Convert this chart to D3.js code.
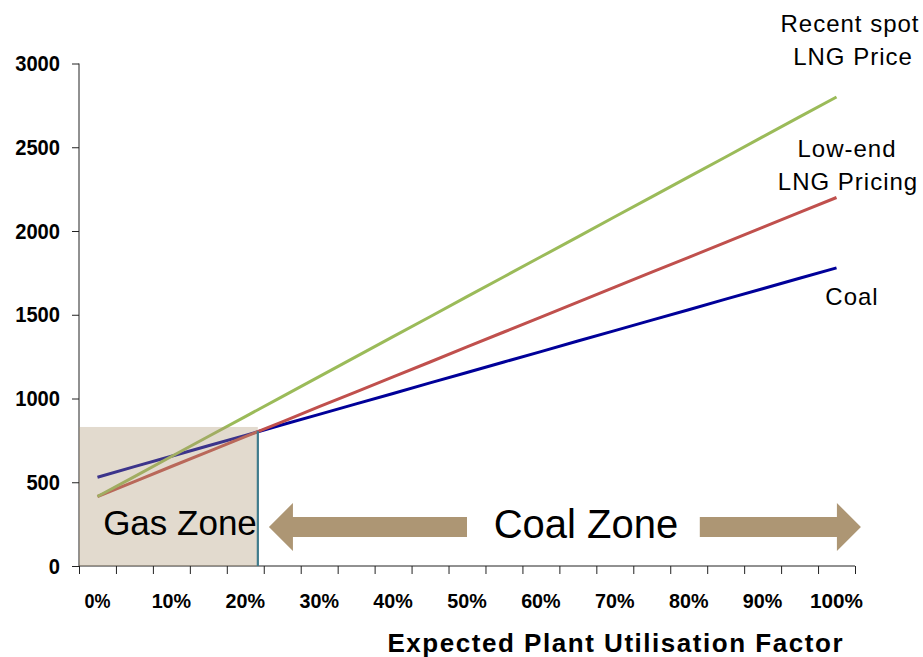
<!DOCTYPE html>
<html>
<head>
<meta charset="utf-8">
<script src="https://cdn.jsdelivr.net/npm/d3@7"></script>
<style>
  html, body { margin: 0; padding: 0; background: #fff; }
  svg { display: block; font-family: "Liberation Sans", Arial, sans-serif; }
</style>
</head>
<body>
<svg id="chart" width="923" height="657"></svg>
<script>
// ---- data ----
const utilisation = [0, 5, 10, 15, 20, 25, 30, 35, 40, 45, 50, 55, 60, 65, 70, 75, 80, 85, 90, 95, 100];
const xTickLabels = ["0%", "10%", "20%", "30%", "40%", "50%", "60%", "70%", "80%", "90%", "100%"];
const xTickLabelValues = [0, 10, 20, 30, 40, 50, 60, 70, 80, 90, 100];
const yTicks = [0, 500, 1000, 1500, 2000, 2500, 3000];

const coal =     [530, 593, 655, 718, 780, 843, 905, 968, 1030, 1093, 1155, 1218, 1280, 1343, 1405, 1468, 1530, 1593, 1655, 1718, 1780];
const lowEndLNG = [415, 504, 594, 683, 772, 861, 951, 1040, 1129, 1218, 1308, 1397, 1486, 1575, 1665, 1754, 1843, 1932, 2022, 2111, 2200];
const spotLNG =  [415, 534, 654, 773, 892, 1011, 1131, 1250, 1369, 1488, 1608, 1727, 1846, 1965, 2085, 2204, 2323, 2442, 2562, 2681, 2800];

const seriesNames = ["Coal", "Low-end LNG Pricing", "Recent spot LNG Price"];
const seriesColors = ["#000099", "#C0504D", "#9BBB59"];

const gasZoneLimit = [21.7];      // % utilisation where gas stops being cheaper
const gasZoneTop = [830];         // top of shaded region
const breakEvenValue = [805];     // cost where Coal and Low-end LNG cross
const leftArrowRange = [23.2, 50.0];   // tip, tail (in %)
const rightArrowRange = [81.5, 103.3]; // tail, tip (in %)
const arrowLevel = [233];

// ---- layout ----
const svg = d3.select("#chart");
const x = d3.scaleLinear().domain([-2.5, 102.5]).range([79, 855]);
const y = d3.scaleLinear().domain([0, 3000]).range([566, 63.5]);

// axes
const yAxis = d3.axisLeft(y).tickValues(yTicks).tickSize(7).tickFormat("");
const gy = svg.append("g").attr("transform", `translate(${x(-2.5)},0)`).call(yAxis);
gy.select(".domain").attr("stroke", "#222").attr("d", `M0,${y(3000)}V${y(0)}`);
gy.selectAll(".tick line").attr("stroke", "#222");

const boundaries = utilisation.map(v => v - 2.5).concat([102.5]);
const xAxis = d3.axisBottom(x).tickValues(boundaries).tickSize(8).tickFormat("");
const gx = svg.append("g").attr("transform", `translate(0,${y(0)})`).call(xAxis);
gx.select(".domain").attr("stroke", "#222").attr("d", `M${x(-2.5)},0H${x(102.5)}`);
gx.selectAll(".tick line").attr("stroke", "#222");

// y tick labels (tall, slightly condensed)
svg.append("g").selectAll("text").data(yTicks).join("text")
  .attr("x", 60).attr("y", d => y(d) + 7.5)
  .attr("text-anchor", "end")
  .attr("font-weight", "bold").attr("font-size", 21.5)
  .attr("textLength", d => String(d).length * 11.2)
  .attr("lengthAdjust", "spacingAndGlyphs")
  .attr("fill", "#000")
  .text(d => d);

// x tick labels
svg.append("g").selectAll("text").data(xTickLabelValues).join("text")
  .attr("x", d => x(d)).attr("y", 608)
  .attr("text-anchor", "middle")
  .attr("font-weight", "bold").attr("font-size", 21)
  .attr("textLength", (d, i) => xTickLabels[i].length * 13.5 - 1)
  .attr("lengthAdjust", "spacingAndGlyphs")
  .attr("fill", "#000")
  .text((d, i) => xTickLabels[i]);

// x axis title
svg.append("text")
  .attr("x", 615).attr("y", 652)
  .attr("text-anchor", "middle")
  .attr("font-weight", "bold").attr("font-size", 26)
  .attr("textLength", 455).attr("lengthAdjust", "spacing")
  .text("Expected Plant Utilisation Factor");

// series lines
const allSeries = [coal, lowEndLNG, spotLNG];
const line = d3.line().x((d, i) => x(utilisation[i])).y(d => y(d));
svg.append("g").selectAll("path").data(allSeries).join("path")
  .attr("d", d => line(d))
  .attr("fill", "none")
  .attr("stroke", (d, i) => seriesColors[i])
  .attr("stroke-width", 3);

// gas zone shading (semi-transparent overlay)
svg.append("rect")
  .attr("x", x(-2.5)).attr("y", y(gasZoneTop[0]))
  .attr("width", x(gasZoneLimit[0]) - x(-2.5))
  .attr("height", y(0) - y(gasZoneTop[0]))
  .attr("fill", "#AD9673").attr("fill-opacity", 0.35);

// vertical break-even line
svg.append("line")
  .attr("x1", x(gasZoneLimit[0])).attr("x2", x(gasZoneLimit[0]))
  .attr("y1", y(breakEvenValue[0])).attr("y2", y(0))
  .attr("stroke", "#3F7B8C").attr("stroke-width", 2.2);

// arrows
const arrowColor = "#AD9674";
const ay = y(arrowLevel[0]);
function arrowPath(tipX, tailX) {
  const dir = tipX > tailX ? 1 : -1;
  const headLen = 24, headHalf = 24, shaftHalf = 10;
  const baseX = tipX - dir * headLen;
  return `M${tailX},${ay - shaftHalf}L${baseX},${ay - shaftHalf}L${baseX},${ay - headHalf}` +
         `L${tipX},${ay}L${baseX},${ay + headHalf}L${baseX},${ay + shaftHalf}L${tailX},${ay + shaftHalf}Z`;
}
svg.append("path").attr("d", arrowPath(x(leftArrowRange[0]), x(leftArrowRange[1]))).attr("fill", arrowColor);
svg.append("path").attr("d", arrowPath(x(rightArrowRange[1]), x(rightArrowRange[0]))).attr("fill", arrowColor);

// zone labels
svg.append("text").attr("x", 180).attr("y", 535).attr("text-anchor", "middle")
  .attr("font-size", 35).attr("fill", "#000").text("Gas Zone");
svg.append("text").attr("x", 586).attr("y", 538).attr("text-anchor", "middle")
  .attr("font-size", 40).attr("fill", "#000").text("Coal Zone");

// series annotations
const annotations = [
  { lines: ["Recent spot", "LNG Price"], cx: [850, 853], by: [32, 65] },
  { lines: ["Low-end", "LNG Pricing"], cx: [847, 848], by: [157, 190] },
  { lines: ["Coal"], cx: [852], by: [305] }
];
annotations.forEach(a => {
  a.lines.forEach((t, i) => {
    svg.append("text").attr("x", a.cx[i]).attr("y", a.by[i])
      .attr("text-anchor", "middle")
      .attr("font-size", 24).attr("letter-spacing", 1)
      .attr("fill", "#000").text(t);
  });
});
</script>
</body>
</html>
